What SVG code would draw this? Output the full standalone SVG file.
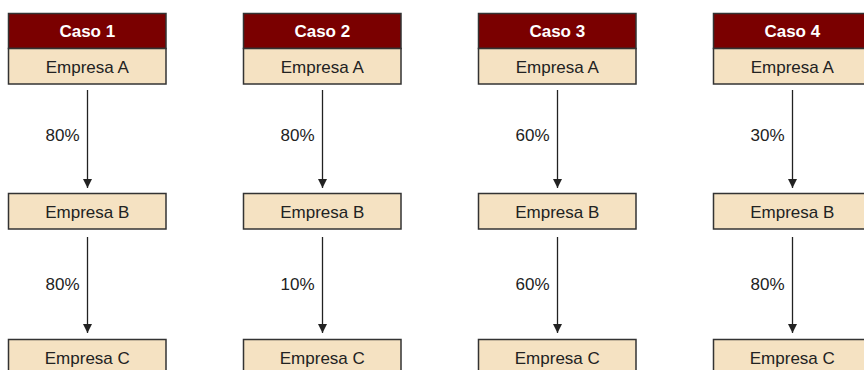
<svg xmlns="http://www.w3.org/2000/svg" width="864" height="370" viewBox="0 0 864 370">
<style>
.hd{fill:#7a0000;stroke:#333;stroke-width:1.5}
.bx{fill:#f5e2c2;stroke:#333;stroke-width:1.5}
.ht{font-family:"Liberation Sans",Arial,sans-serif;font-size:17px;font-weight:bold;fill:#fff;text-anchor:middle}
.t{font-family:"Liberation Sans",Arial,sans-serif;font-size:17px;fill:#222;text-anchor:middle}
.ln{stroke:#222;stroke-width:1.3;fill:none}
</style>
<defs>
<marker id="ah" markerWidth="10" markerHeight="10" refX="9" refY="5" orient="auto" markerUnits="userSpaceOnUse">
<path d="M0,0.5 L9,5 L0,9.5 Z" fill="#222"/>
</marker>
</defs>
<g id="caso1">
<rect class="hd" x="8.5" y="13.5" width="157.5" height="35"/>
<text class="ht" x="87.3" y="37">Caso 1</text>
</g>
<g id="c1a"><rect class="bx" x="8.5" y="48.5" width="157.5" height="35.5"/><text class="t" x="87.3" y="72.5">Empresa A</text></g>
<g id="c1b"><rect class="bx" x="8.5" y="193.5" width="157.5" height="35.5"/><text class="t" x="87.3" y="218">Empresa B</text></g>
<g id="c1c"><rect class="bx" x="8.5" y="339.5" width="157.5" height="35.5"/><text class="t" x="87.3" y="364">Empresa C</text></g>

<g id="caso2">
<rect class="hd" x="243.5" y="13.5" width="157.5" height="35"/>
<text class="ht" x="322.3" y="37">Caso 2</text>
</g>
<g id="c2a"><rect class="bx" x="243.5" y="48.5" width="157.5" height="35.5"/><text class="t" x="322.3" y="72.5">Empresa A</text></g>
<g id="c2b"><rect class="bx" x="243.5" y="193.5" width="157.5" height="35.5"/><text class="t" x="322.3" y="218">Empresa B</text></g>
<g id="c2c"><rect class="bx" x="243.5" y="339.5" width="157.5" height="35.5"/><text class="t" x="322.3" y="364">Empresa C</text></g>

<g id="caso3">
<rect class="hd" x="478.5" y="13.5" width="157.5" height="35"/>
<text class="ht" x="557.3" y="37">Caso 3</text>
</g>
<g id="c3a"><rect class="bx" x="478.5" y="48.5" width="157.5" height="35.5"/><text class="t" x="557.3" y="72.5">Empresa A</text></g>
<g id="c3b"><rect class="bx" x="478.5" y="193.5" width="157.5" height="35.5"/><text class="t" x="557.3" y="218">Empresa B</text></g>
<g id="c3c"><rect class="bx" x="478.5" y="339.5" width="157.5" height="35.5"/><text class="t" x="557.3" y="364">Empresa C</text></g>

<g id="caso4">
<rect class="hd" x="713.5" y="13.5" width="157.5" height="35"/>
<text class="ht" x="792.3" y="37">Caso 4</text>
</g>
<g id="c4a"><rect class="bx" x="713.5" y="48.5" width="157.5" height="35.5"/><text class="t" x="792.3" y="72.5">Empresa A</text></g>
<g id="c4b"><rect class="bx" x="713.5" y="193.5" width="157.5" height="35.5"/><text class="t" x="792.3" y="218">Empresa B</text></g>
<g id="c4c"><rect class="bx" x="713.5" y="339.5" width="157.5" height="35.5"/><text class="t" x="792.3" y="364">Empresa C</text></g>

<g id="connectors">
<line class="ln" x1="87.5" y1="90" x2="87.5" y2="188" marker-end="url(#ah)"/>
<line class="ln" x1="87.5" y1="237" x2="87.5" y2="333" marker-end="url(#ah)"/>
<line class="ln" x1="322.5" y1="90" x2="322.5" y2="188" marker-end="url(#ah)"/>
<line class="ln" x1="322.5" y1="237" x2="322.5" y2="333" marker-end="url(#ah)"/>
<line class="ln" x1="557.5" y1="90" x2="557.5" y2="188" marker-end="url(#ah)"/>
<line class="ln" x1="557.5" y1="237" x2="557.5" y2="333" marker-end="url(#ah)"/>
<line class="ln" x1="792.5" y1="90" x2="792.5" y2="188" marker-end="url(#ah)"/>
<line class="ln" x1="792.5" y1="237" x2="792.5" y2="333" marker-end="url(#ah)"/>
<text class="t" x="62.5" y="141">80%</text>
<text class="t" x="62.5" y="290">80%</text>
<text class="t" x="297.5" y="141">80%</text>
<text class="t" x="297.5" y="290">10%</text>
<text class="t" x="532.5" y="141">60%</text>
<text class="t" x="532.5" y="290">60%</text>
<text class="t" x="767.5" y="141">30%</text>
<text class="t" x="767.5" y="290">80%</text>
</g>
</svg>
